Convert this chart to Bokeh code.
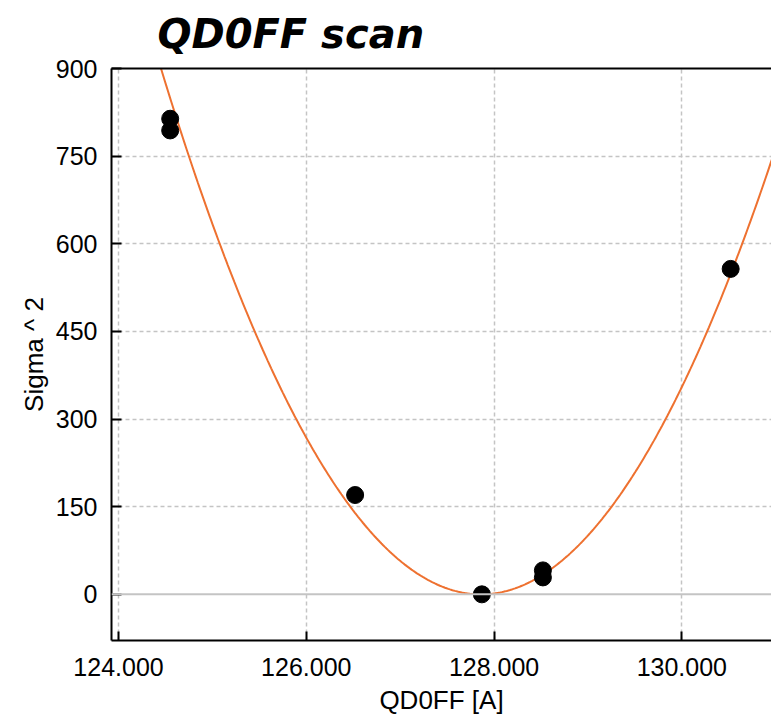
import numpy as np
from bokeh.plotting import figure
from bokeh.models import LinearAxis, FixedTicker, Span, NumeralTickFormatter, ColumnDataSource
from bokeh.embed import file_html
from bokeh.resources import INLINE

# Measured scan points: magnet current vs. beam size squared
current = [124.55, 124.55, 126.52, 127.87, 128.52, 128.52, 130.52]
sigma_sq = [814, 794, 170, 0, 41, 29, 557]

# Parabolic fit: sigma^2 = a * (I - I0)^2 + c
fit_a = 77.5
fit_i0 = 127.86
fit_c = 0.0

x_ticks = [124, 126, 128, 130]
y_ticks = [0, 150, 300, 450, 600, 750, 900]

FONT = "Liberation Sans"

p = figure(width=771, height=717, output_backend="svg", toolbar_location=None,
           x_range=(123.925, 130.955), y_range=(-79, 900),
           min_border_left=111, min_border_right=0, min_border_bottom=0, min_border_top=0)

p.title.text = "QD0FF scan"
p.title.text_font = "DejaVu Sans"
p.title.text_font_style = "bold italic"
p.title.text_font_size = "40px"
p.title.vertical_align = "top"
p.title.text_color = "black"
p.title.align = "left"
p.title.offset = 46
p.title.standoff = 20

p.outline_line_color = None
p.background_fill_color = "white"
p.border_fill_color = "white"

for ax in (p.xaxis, p.yaxis):
    ax.axis_line_width = 2
    ax.axis_line_color = "black"
    ax.major_tick_line_width = 2
    ax.major_tick_line_color = "black"
    ax.minor_tick_line_color = None
    ax.major_tick_out = 0
    ax.major_label_text_font = FONT
    ax.major_label_text_font_size = "25px"
    ax.major_label_text_color = "black"
    ax.axis_label_text_font = FONT
    ax.axis_label_text_font_style = "normal"
    ax.axis_label_text_color = "black"

p.xaxis.ticker = FixedTicker(ticks=x_ticks)
p.xaxis.formatter = NumeralTickFormatter(format="0.000")
p.xaxis.major_tick_in = 9
p.xaxis.major_label_standoff = 17
p.xaxis.axis_label = "QD0FF [A]"
p.xaxis.axis_label_text_font_size = "26px"
p.xaxis.axis_label_standoff = 6

p.yaxis.ticker = FixedTicker(ticks=y_ticks)
p.yaxis.major_tick_in = 10
p.yaxis.major_label_standoff = 14
p.yaxis.axis_label = "Sigma ^ 2"
p.yaxis.axis_label_text_font_size = "26px"
p.yaxis.axis_label_standoff = 4

# top frame line
top = LinearAxis(ticker=FixedTicker(ticks=[]), axis_line_width=2, axis_line_color="black",
                 major_tick_in=0, major_tick_out=0, minor_tick_in=0, minor_tick_out=0,
                 major_label_standoff=0)
p.add_layout(top, "above")

for g in (p.xgrid, p.ygrid):
    g.grid_line_color = "#c4c4c4"
    g.grid_line_width = 1.5
    g.grid_line_dash = "4 3"
p.xgrid.ticker = FixedTicker(ticks=x_ticks)
p.ygrid.ticker = FixedTicker(ticks=[t for t in y_ticks if t != 0])

p.add_layout(Span(location=0, dimension="width", line_color="#c4c4c4", line_width=2))

xs = np.linspace(123.9, 131.0, 400)
ys = fit_a * (xs - fit_i0) ** 2 + fit_c
p.line(xs, ys, line_color="#ee7130", line_width=2)

src = ColumnDataSource(dict(x=current, y=sigma_sq))
p.scatter("x", "y", source=src, size=17, color="black")

open("out.html", "w").write(file_html(p, INLINE))
